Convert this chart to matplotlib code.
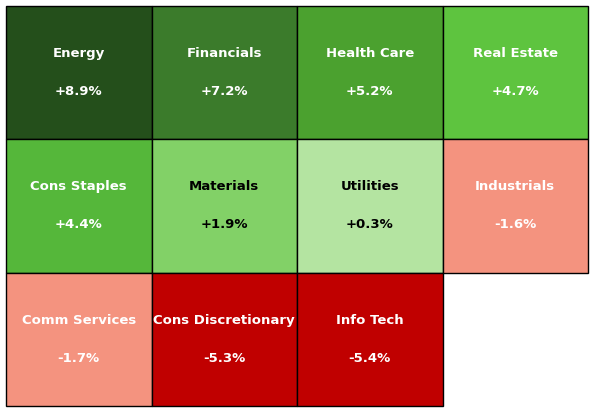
import matplotlib
matplotlib.use("Agg")
import matplotlib.pyplot as plt
import matplotlib.patches as patches

sectors = ["Energy", "Financials", "Health Care", "Real Estate",
           "Cons Staples", "Materials", "Utilities", "Industrials",
           "Comm Services", "Cons Discretionary", "Info Tech"]
changes = [8.9, 7.2, 5.2, 4.7, 4.4, 1.9, 0.3, -1.6, -1.7, -5.3, -5.4]
colors = ["#244f1b", "#3b7b2b", "#4ba12f", "#5ec43f",
          "#55b73a", "#82d167", "#b4e4a1", "#f4937f",
          "#f4937f", "#c00000", "#c00000"]
text_colors = ["white"] * 5 + ["black", "black"] + ["white"] * 4

fig = plt.figure(figsize=(5.93, 4.15), dpi=100)
ax = fig.add_axes([0, 0, 1, 1])
ax.set_xlim(0, 593)
ax.set_ylim(415, 0)
ax.axis("off")

x0, y0 = 6, 6
w, h = 145.5, 133.3
ncols = 4
for i, (name, val) in enumerate(zip(sectors, changes)):
    r, c = divmod(i, ncols)
    x = x0 + c * w
    y = y0 + r * h
    ax.add_patch(patches.Rectangle((x, y), w, h, facecolor=colors[i],
                                   edgecolor="black", linewidth=1))
    ax.text(x + w / 2, y + h / 2 - 19, name, ha="center", va="center",
            color=text_colors[i], fontsize=9.5, fontweight="bold")
    ax.text(x + w / 2, y + h / 2 + 19, f"{val:+.1f}%", ha="center", va="center",
            color=text_colors[i], fontsize=9.5, fontweight="bold")

fig.savefig("out.png", dpi=100)
